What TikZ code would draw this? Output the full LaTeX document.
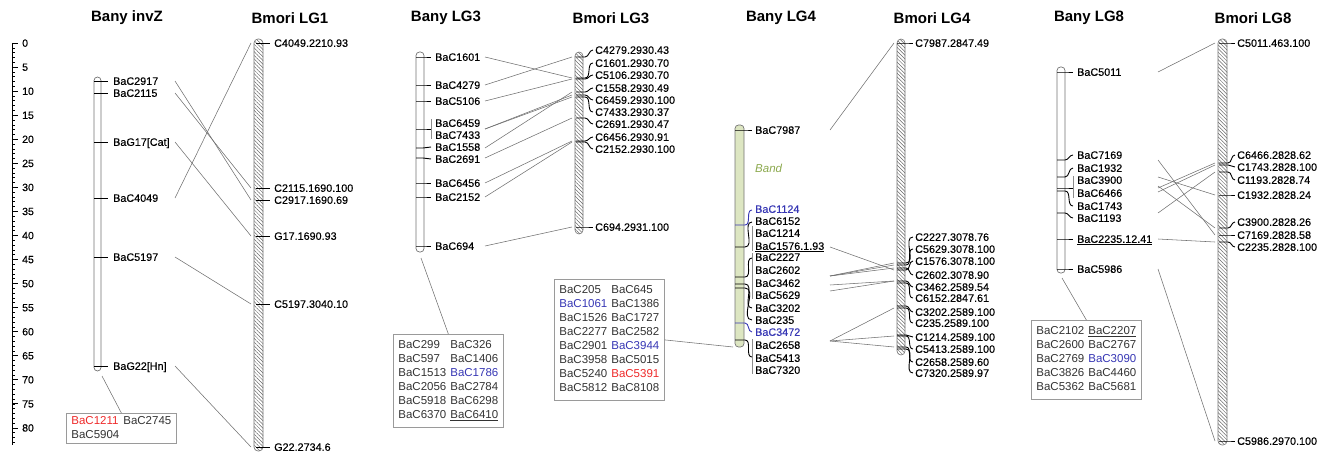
\documentclass[tikz,border=0pt]{standalone}
\usepackage{fontspec}
\setmainfont{Liberation Sans}
\newfontfamily\mkfont[FakeBold=0.35]{Liberation Sans}
\usepackage{tikz}
\usetikzlibrary{patterns.meta}
\definecolor{cred}{HTML}{EE2A2A}
\definecolor{cblue}{HTML}{3636B4}
\definecolor{cband}{HTML}{DDE6C2}
\definecolor{cbandtxt}{HTML}{8CA94E}
\definecolor{clink}{HTML}{707070}
\definecolor{cbox}{HTML}{9A9A9A}

\begin{document}
\begin{tikzpicture}[x=1pt, y=-1pt,
    ttl/.style={font=\fontsize{15}{17}\selectfont\bfseries},
    mk/.style={font=\mkfont\fontsize{10.8}{13}\selectfont, anchor=west, inner sep=0pt, text height=7.7pt, text depth=0pt},
    num/.style={font=\mkfont\fontsize{10.5}{12}\selectfont, anchor=west, inner sep=0pt, text height=7.5pt, text depth=0pt},
    lst/.style={draw=cbox, line width=0.8pt, inner xsep=5pt, inner ysep=4.5pt, anchor=north west, text=black!80, font=\fontsize{11.5}{14}\selectfont},
    tk/.style={line width=0.9pt},
    brk/.style={draw=black!45, line width=0.7pt},
    link/.style={draw=clink, line width=0.55pt},
    chrA/.style={draw=black!55, fill=white, line width=0.7pt, rounded corners=3.5pt},
    chrB/.style={draw=black!55, line width=0.6pt, rounded corners=4pt, pattern={Lines[angle=-45,distance=2.6pt,line width=0.5pt]}, pattern color=black!60},
    chrG/.style={chrA, fill=cband}]
    \useasboundingbox (0,0) rectangle (1329,452);

    % régua (cM)
    \draw[line width=0.6pt] (12,43) -- (12,445);
    \foreach \i in {0,...,83}
        \draw[line width=0.5pt] (12,43+4.81*\i) -- (15,43+4.81*\i);
    \foreach \v in {0,5,...,80} {
        \draw[line width=0.6pt] (12,43+4.81*\v) -- (18,43+4.81*\v);
        \node[num] (n\v) at (22,43+4.81*\v) {\v};
    }

    % Bany invZ
    \node[ttl] (tZ) at (127,18) {Bany invZ};
    \draw[chrA] (94,77) rectangle (101,371);
    \foreach \p/\txt/\nm in {81/BaC2917/z2917, 93/BaC2115/z2115, 142/BaG17[Cat]/z17, 198/BaC4049/z4049, 257/BaC5197/z5197, 366/BaG22[Hn]/z22} {
        \draw[tk] (94,\p) -- (108,\p);
        \node[mk] (\nm) at (113,\p) {\txt};
        \coordinate (\nm-r) at (175,\p);
    }

    % Bmori LG1
    \node[ttl] (tB1) at (290,18) {Bmori LG1};
    \draw[chrB] (254,39) rectangle (263,451);
    \foreach \p/\txt/\nm in {43/C4049.2210.93/b4049, 188/C2115.1690.100/b2115, 200/C2917.1690.69/b2917, 236/G17.1690.93/b17, 304/C5197.3040.10/b5197, 447/G22.2734.6/b22} {
        \draw[tk] (256,\p) -- (270,\p);
        \node[mk] (\nm) at (274,\p) {\txt};
        \coordinate (\nm-l) at (251,\p);
    }
    \foreach \a/\b in {z2917/b2917, z2115/b2115, z17/b17, z4049/b4049, z5197/b5197, z22/b22}
        \draw[link] (\a-r) -- (\b-l);

    % marcadores sem posição (invZ)
    \coordinate (zBot) at (102,376);
    \node[lst, inner ysep=1pt] (boxZ) at (66,413) {\begin{tabular}{@{}l@{\hspace{4pt}}l@{}}
        \textcolor{cred}{BaC1211} & BaC2745\\
        BaC5904 & \end{tabular}};
    \draw[link] (zBot) -- (boxZ.north);

    % Bany LG3
    \node[ttl] (tA3) at (446,18) {Bany LG3};
    \draw[chrA] (416,52) rectangle (424,252);
    \foreach \p/\y/\txt/\nm in {57/57/BaC1601/c1601, 85/85/BaC4279/c4279, 101/101/BaC5106/c5106, 129/123/BaC6459/c6459, 129/135/BaC7433/c7433, 148/147/BaC1558/c1558, 158/159/BaC2691/c2691, 183/183/BaC6456/c6456, 197/197/BaC2152/c2152, 246/246/BaC694/c694} {
        \node[mk] (\nm) at (435,\y) {\txt};
        \coordinate (\nm-r) at (485,\p);
    }
    \foreach \p/\k in {57/57, 85/85, 101/101, 129/129, 148/147, 158/159, 183/183, 197/197, 246/246}
        \draw[tk] (416,\p) -- (423,\p) to[out=0,in=180] (431,\k);
    \draw[brk] (431,119) -- (431,139);

    % Bmori LG3
    \node[ttl] (tB3) at (611,18) {Bmori LG3};
    \draw[chrB] (575,52) rectangle (583,234);
    \foreach \p/\y/\txt/\nm in {57/50/C4279.2930.43/d4279, 78/63/C1601.2930.70/d1601, 79/75/C5106.2930.70/d5106, 92/88/C1558.2930.49/d1558, 95/100/C6459.2930.100/d6459, 97/112/C7433.2930.37/d7433, 118/124/C2691.2930.47/d2691, 141/137/C6456.2930.91/d6456, 142/149/C2152.2930.100/d2152, 227/227/C694.2931.100/d694} {
        \draw[tk] (576,\p) -- (585,\p) to[out=0,in=180] (593,\y);
        \node[mk] (\nm) at (595,\y) {\txt};
        \coordinate (\nm-l) at (572,\p);
    }
    \foreach \a/\b in {c1601/d1601, c4279/d4279, c5106/d5106, c6459/d6459, c7433/d7433, c1558/d1558, c2691/d2691, c6456/d6456, c2152/d2152, c694/d694}
        \draw[link] (\a-r) -- (\b-l);

    % marcadores sem posição (LG3)
    \coordinate (cBot) at (421,258);
    \node[lst] (boxC) at (393,334) {\begin{tabular}{@{}l@{\hspace{4pt}}l@{}}
        BaC299 & BaC326\\
        BaC597 & BaC1406\\
        BaC1513 & \textcolor{cblue}{BaC1786}\\
        BaC2056 & BaC2784\\
        BaC5918 & BaC6298\\
        BaC6370 & \underline{BaC6410}\end{tabular}};
    \draw[link] (cBot) -- (boxC.north);

    % Bany LG4
    \node[ttl] (tA4) at (781,18) {Bany LG4};
    \draw[chrG] (735,125) rectangle (744,347);
    \node[anchor=west, inner sep=0pt, text=cbandtxt, font=\fontsize{11.5}{13}\selectfont\itshape] (band) at (755,168) {Band};
    \foreach \y/\txt/\nm/\cl in {130/BaC7987/a7987/black, 209/BaC1124/a1124/cblue, 221/BaC6152/a6152/black, 233/BaC1214/a1214/black, 246/\underline{BaC1576.1.93}/a1576/black, 257/BaC2227/a2227/black, 270/BaC2602/a2602/black, 283/BaC3462/a3462/black, 295/BaC5629/a5629/black, 308/BaC3202/a3202/black, 320/BaC235/a235/black, 332/BaC3472/a3472/cblue, 345/BaC2658/a2658/black, 358/BaC5413/a5413/black, 370/BaC7320/a7320/black}
        \node[mk, text=\cl] (\nm) at (755,\y) {\txt};
    \foreach \p/\k/\cl in {130/130/black, 225/210/cblue, 247/222/black, 277/258/black, 284/308/black, 288/320/black, 323/332/cblue, 340/357/black}
        \draw[tk, \cl] (735,\p) -- (745,\p) to[out=0,in=180] (752,\k);
    \foreach \a/\b in {226/251, 253/299, 339/374}
        \draw[brk] (752,\a) -- (752,\b);
    \foreach \q/\nm in {130/a7987, 247/a1576, 276/a2227, 276/a2602, 276/a5629, 285/a3462, 291/a3202, 341/a2658, 341/a5413, 341/a7320}
        \coordinate (\nm-r) at (830,\q);

    % Bmori LG4
    \node[ttl] (tB4) at (932,18) {Bmori LG4};
    \draw[chrB] (897,39) rectangle (905,355);
    \foreach \p/\y/\txt/\nm in {43/43/C7987.2847.49/b7987, 263/237/C2227.3078.76/b2227, 265/249/C5629.3078.100/b5629, 270/261/C1576.3078.100/b1576, 268/275/C2602.3078.90/b2602, 281/287/C3462.2589.54/b3462, 283/298/C6152.2847.61/b6152, 306/312/C3202.2589.100/b3202, 308/323/C235.2589.100/b235, 335/337/C1214.2589.100/b1214, 336/349/C5413.2589.100/b5413, 347/362/C2658.2589.60/b2658, 349/373/C7320.2589.97/b7320} {
        \draw[tk] (897,\p) -- (906,\p) to[out=0,in=180] (913,\y);
        \node[mk] (\nm) at (915,\y) {\txt};
        \coordinate (\nm-l) at (894,\p);
    }
    \foreach \a/\b in {a7987/b7987, a1576/b1576, a2227/b2227, a2602/b2602, a5629/b5629, a3462/b3462, a3202/b3462, a2658/b2658, a5413/b5413, a7320/b235}
        \draw[link] (\a-r) -- (\b-l);

    % marcadores sem posição (LG4)
    \coordinate (aBot) at (733,347);
    \node[lst] (boxM) at (554,279) {\begin{tabular}{@{}l@{\hspace{4pt}}l@{}}
        BaC205 & BaC645\\
        \textcolor{cblue}{BaC1061} & BaC1386\\
        BaC1526 & BaC1727\\
        BaC2277 & BaC2582\\
        BaC2901 & \textcolor{cblue}{BaC3944}\\
        BaC3958 & BaC5015\\
        BaC5240 & \textcolor{cred}{BaC5391}\\
        BaC5812 & BaC8108\end{tabular}};
    \draw[link] (boxM.east) -- (aBot);

    % Bany LG8
    \node[ttl] (tA8) at (1089,18) {Bany LG8};
    \draw[chrA] (1057,67) rectangle (1065,273);
    \foreach \p/\y/\txt/\nm in {72/72/BaC5011/e5011, 160/155/BaC7169/e7169, 177/168/BaC1932/e1932, 186/180/BaC3900/e3900, 188/193/BaC6466/e6466, 192/206/BaC1743/e1743, 213/218/BaC1193/e1193, 239/239/\underline{BaC2235.12.41}/e2235, 269/269/BaC5986/e5986} {
        \node[mk] (\nm) at (1077,\y) {\txt};
        \coordinate (\nm-r) at (1158,\p);
    }
    \foreach \p/\k in {72/72, 160/155, 177/168, 188/188, 191/206, 213/218, 239/239, 269/269}
        \draw[tk] (1057,\p) -- (1065,\p) to[out=0,in=180] (1073,\k);
    \draw[brk] (1073,176) -- (1073,198);

    % Bmori LG8
    \node[ttl] (tB8) at (1253,18) {Bmori LG8};
    \draw[chrB] (1218,39) rectangle (1227,445);
    \foreach \p/\y/\txt/\nm in {43/43/C5011.463.100/f5011, 163/155/C6466.2828.62/f6466, 165/167/C1743.2828.100/f1743, 172/180/C1193.2828.74/f1193, 195/195/C1932.2828.24/f1932, 228/222/C3900.2828.26/f3900, 235/235/C7169.2828.58/f7169, 242/247/C2235.2828.100/f2235, 441/441/C5986.2970.100/f5986} {
        \draw[tk] (1219,\p) -- (1228,\p) to[out=0,in=180] (1235,\y);
        \node[mk] (\nm) at (1237,\y) {\txt};
        \coordinate (\nm-l) at (1215,\p);
    }
    \foreach \a/\b in {e5011/f5011, e7169/f7169, e1932/f1932, e3900/f3900, e6466/f6466, e1743/f1743, e1193/f1193, e2235/f2235, e5986/f5986}
        \draw[link] (\a-r) -- (\b-l);

    % marcadores sem posição (LG8)
    \coordinate (eBot) at (1062,278);
    \node[lst] (boxE) at (1031,320) {\begin{tabular}{@{}l@{\hspace{4pt}}l@{}}
        BaC2102 & \underline{BaC2207}\\
        BaC2600 & BaC2767\\
        BaC2769 & \textcolor{cblue}{BaC3090}\\
        BaC3826 & BaC4460\\
        BaC5362 & BaC5681\end{tabular}};
    \draw[link] (eBot) -- (boxE.north);

\end{tikzpicture}
\end{document}
